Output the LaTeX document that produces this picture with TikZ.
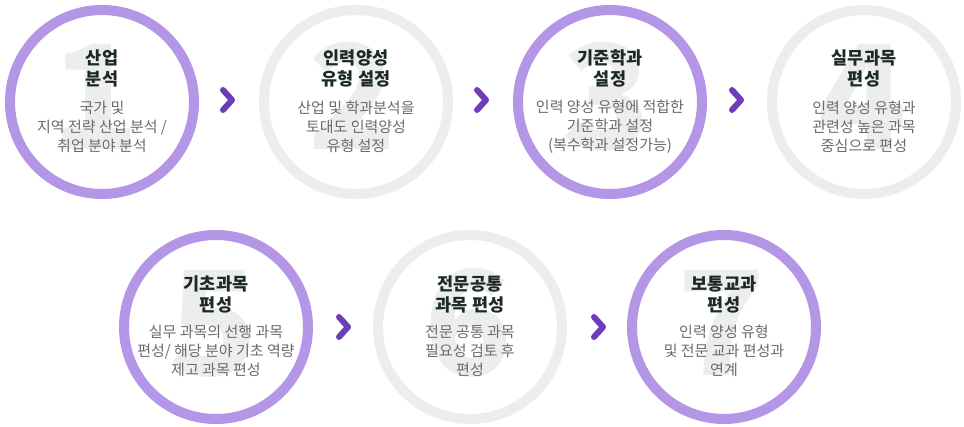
\documentclass[tikz,border=0pt]{standalone}
\usepackage{fontspec}
\setmainfont{Noto Sans CJK KR}
\newfontfamily\digitfont{Noto Sans CJK KR Black}
\definecolor{ringpurple}{HTML}{B595E6}
\definecolor{ringgray}{HTML}{EDEDED}
\definecolor{chev}{HTML}{6B3DB9}
\definecolor{titlec}{HTML}{1B2A28}
\definecolor{descc}{HTML}{6A6A6A}
\definecolor{digitc}{HTML}{EDEDED}
\begin{document}
\begin{tikzpicture}[x=1pt,y=-1pt,
  ringp/.style={draw=ringpurple,line width=10pt},
  ringg/.style={draw=ringgray,line width=10pt},
  titletext/.style={font=\fontsize{17.5}{21}\selectfont\bfseries, text=titlec, align=center, inner sep=0},
  desctext/.style={font=\fontsize{15}{19}\selectfont, text=descc, align=center, inner sep=0},
  bignum/.style={font=\digitfont\fontsize{145}{145}\selectfont, text=digitc, inner sep=0, anchor=base},
  chevron/.style={draw=chev, line width=6pt, line cap=round, line join=round}]
\useasboundingbox (0,0) rectangle (964,427);
\fill[white] (0,0) rectangle (964,427);
% rings
\draw[ringp] (102,102) circle (92);
\draw[ringg] (356,102) circle (92);
\draw[ringp] (610,102) circle (92);
\draw[ringg] (864,102) circle (92);
\draw[ringp] (216,327) circle (92);
\draw[ringg] (470,327) circle (92);
\draw[ringp] (724,327) circle (92);
% big digits
\node[bignum] (n1) at (96,150) {1};
\node[bignum] (n2) at (353,150) {2};
\node[bignum] (n3) at (607,150) {3};
\node[bignum] (n4) at (863,150) {4};
\node[bignum] (n5) at (214,376) {5};
\node[bignum] (n6) at (469,376) {6};
\node[bignum] (n7) at (722,376) {7};
% titles
\node[titletext] (t1) at (102,68) {산업\\분석};
\node[titletext] (t2) at (356,68) {인력양성\\유형 설정};
\node[titletext] (t3) at (610,68) {기준학과\\설정};
\node[titletext] (t4) at (864,68) {실무과목\\편성};
\node[titletext] (t5) at (216,294) {기초과목\\편성};
\node[titletext] (t6) at (470,294) {전문공통\\과목 편성};
\node[titletext] (t7) at (724,294) {보통교과\\편성};
% descriptions
\node[desctext] (d1) at (102,127) {국가 및\\지역 전략 산업 분석 /\\취업 분야 분석};
\node[desctext] (d2) at (356,127) {산업 및 학과분석을\\토대도 인력양성\\유형 설정};
\node[desctext] (d3) at (610,127) {인력 양성 유형에 적합한\\기준학과 설정\\(복수학과 설정가능)};
\node[desctext] (d4) at (864,127) {인력 양성 유형과\\관련성 높은 과목\\중심으로 편성};
\node[desctext] (d5) at (216,351) {실무 과목의 선행 과목\\편성/ 해당 분야 기초 역량\\제고 과목 편성};
\node[desctext] (d6) at (470,351) {전문 공통 과목\\필요성 검토 후\\편성};
\node[desctext] (d7) at (724,351) {인력 양성 유형\\및 전문 교과 편성과\\연계};
% chevrons
\draw[chevron, shift={(227,100)}] (-4,-10) -- (5,0) -- (-4,10);
\draw[chevron, shift={(481,100)}] (-4,-10) -- (5,0) -- (-4,10);
\draw[chevron, shift={(736,100)}] (-4,-10) -- (5,0) -- (-4,10);
\draw[chevron, shift={(343,327)}] (-4,-10) -- (5,0) -- (-4,10);
\draw[chevron, shift={(598,327)}] (-4,-10) -- (5,0) -- (-4,10);
\end{tikzpicture}
\end{document}
